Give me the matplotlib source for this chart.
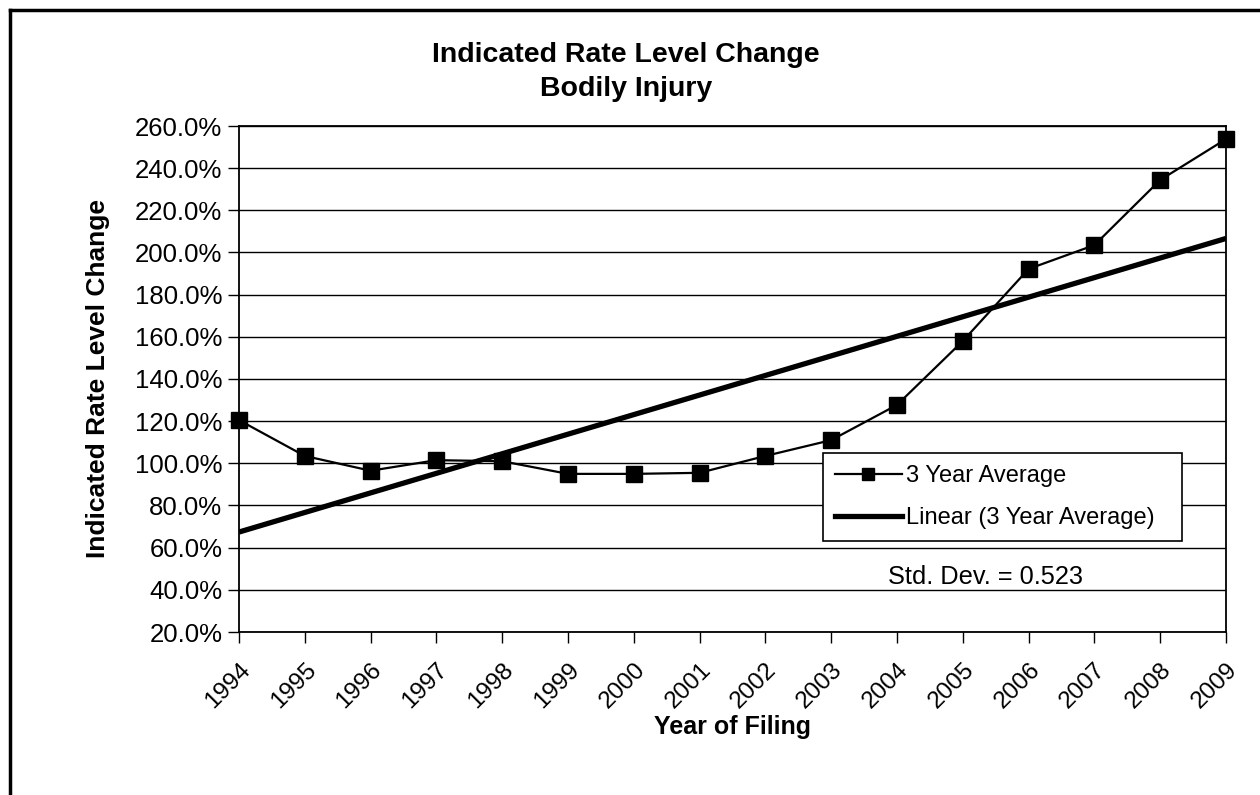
import numpy as np
import matplotlib.pyplot as plt
from matplotlib.lines import Line2D
from matplotlib.ticker import FuncFormatter

plt.rcParams["font.family"] = ["Liberation Sans", "DejaVu Sans"]

# ---------- data ----------
years = list(range(1994, 2010))
avg3 = [120.5, 103.5, 96.5, 101.5, 101.0, 95.0, 95.0, 95.5,
        103.5, 111.0, 127.7, 158.0, 192.2, 203.5, 234.4, 253.8]   # % indicated change
y_ticks = list(range(20, 261, 20))
std_text = "Std. Dev. = 0.523"

x = np.arange(len(years))
slope, intercept = np.polyfit(x, avg3, 1)
trend = slope * x + intercept

W, H = 1260, 795

# ---------- figure ----------
fig = plt.figure(figsize=(W / 100, H / 100), dpi=100)
ax = fig.add_axes([239 / W, 163 / H, 987 / W, 506 / H])

for v in y_ticks:
    ax.axhline(v, color="black", linewidth=1.0, zorder=1)

ax.plot(x, trend, color="black", linewidth=3.8, zorder=2, solid_capstyle="butt")
ax.plot(x, avg3, color="black", linewidth=1.6, marker="s", markersize=11,
        zorder=3, clip_on=False)

ax.set_xlim(0, len(years) - 1)
ax.set_ylim(20, 260)
ax.set_yticks(y_ticks)
ax.yaxis.set_major_formatter(FuncFormatter(lambda v, _: f"{v:.1f}%"))
ax.set_xticks(x)
ax.set_xticklabels([str(y) for y in years], rotation=45, ha="right",
                   rotation_mode="anchor")
ax.tick_params(axis="both", direction="out", length=8, width=1.0,
               color="black", labelsize=18.5)
ax.tick_params(axis="x", labelsize=17.5, pad=11)
ax.tick_params(axis="y", pad=4)
for s in ax.spines.values():
    s.set_color("black")
    s.set_linewidth(1.3)

ax.set_ylabel("Indicated Rate Level Change", fontsize=19, fontweight="bold",
              labelpad=18)
ax.set_xlabel("Year of Filing", fontsize=18, fontweight="bold", labelpad=2)

fig.text(626 / W, 1 - 72 / H, "Indicated Rate Level Change\nBodily Injury",
         ha="center", va="center", fontsize=20.5, fontweight="bold",
         linespacing=1.45)

handles = [
    Line2D([], [], color="black", linewidth=1.6, marker="s", markersize=9),
    Line2D([], [], color="black", linewidth=3.8),
]
leg_box = ((823 - 239) / 987, (632 - 537) / 506, (1182 - 823) / 987, 84 / 506)
leg = ax.legend(handles, ["3 Year Average", "Linear (3 Year Average)"],
                loc="upper left", bbox_to_anchor=leg_box, mode="expand",
                fontsize=17, frameon=True, fancybox=False, framealpha=1,
                edgecolor="black", handlelength=2.85, handletextpad=0.15,
                borderpad=0.5, labelspacing=0.85, borderaxespad=0)
leg.get_frame().set_linewidth(1.2)
leg.set_zorder(5)

fig.text(985 / W, 1 - 577 / H, std_text, fontsize=18.3,
         ha="center", va="center")

# page border (top and left edges)
fig.add_artist(Line2D([10 / W, 1], [1 - 10 / H, 1 - 10 / H],
                      transform=fig.transFigure, color="black", linewidth=2.5))
fig.add_artist(Line2D([10 / W, 10 / W], [0, 1 - 10 / H],
                      transform=fig.transFigure, color="black", linewidth=2.5))

fig.savefig("out.png", dpi=100)
